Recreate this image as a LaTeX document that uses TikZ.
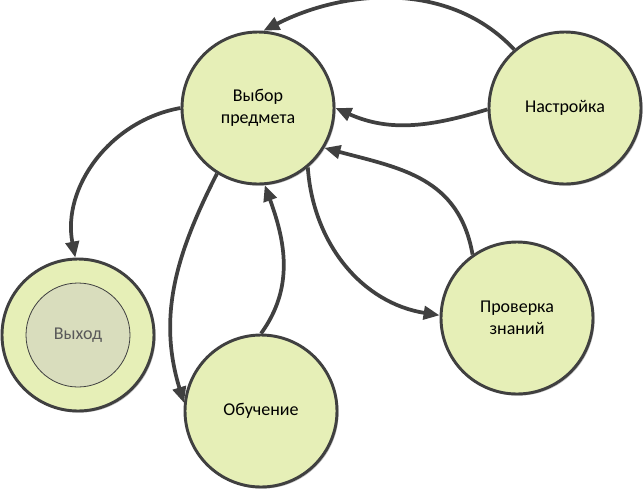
\documentclass[tikz,border=0pt]{standalone}
\usepackage{fontspec}
\setmainfont{Carlito}
\usetikzlibrary{arrows.meta,shadows}
\definecolor{nodefill}{HTML}{E6EFB7}
\definecolor{innerfill}{HTML}{D9DDBD}
\definecolor{edgecol}{HTML}{404040}
\tikzset{
  state/.style={circle, draw=edgecol, line width=2.2pt, fill=nodefill,
    minimum size=114pt, inner sep=0pt, align=center,
    font=\fontsize{13.5}{16.5}\selectfont,
    drop shadow={shadow xshift=1.2pt, shadow yshift=-1.2pt, opacity=0.25, fill=black}},
  innerstate/.style={circle, draw=edgecol, line width=0.6pt, fill=innerfill,
    minimum size=78pt, inner sep=0pt, text=black!65,
    font=\fontsize{13.5}{16.5}\selectfont},
  conn/.style={draw=edgecol, line width=2.8pt,
    -{Triangle[length=12pt,width=10pt]}}
}
\begin{document}
\begin{tikzpicture}[x=0.75pt,y=-0.75pt]
\useasboundingbox (0,0) rectangle (643,490);
\node[state] (vybor) at (258,108) {Выбор\\предмета};
\node[state] (nast) at (565,108) {Настройка};
\node[state] (prov) at (517,318) {Проверка\\знаний};
\node[state] (obuch) at (261,411) {Обучение};
\node[state] (vyhod) at (78,335) {};
\node[innerstate] (vyhodin) at (vyhod.center) {Выход};

\draw[conn] (nast.131) to[out=133,in=27,looseness=0.95] (vybor.86);
\draw[conn] (nast.181) to[out=197,in=336,looseness=1] (vybor.0);
\draw[conn] (prov.125) to[out=100,in=345,looseness=1.1] (vybor.329);
\draw[conn] (vybor.310) to[out=274,in=171,looseness=1] (prov.178);
\draw[conn] (vybor.180) to[out=190,in=101,looseness=1] (vyhod.92);
\draw[conn] (vybor.238) to[out=243,in=107,looseness=1] (obuch.174);
\draw[conn] (obuch.90) to[out=54,in=290,looseness=1] (vybor.275);
\end{tikzpicture}
\end{document}
